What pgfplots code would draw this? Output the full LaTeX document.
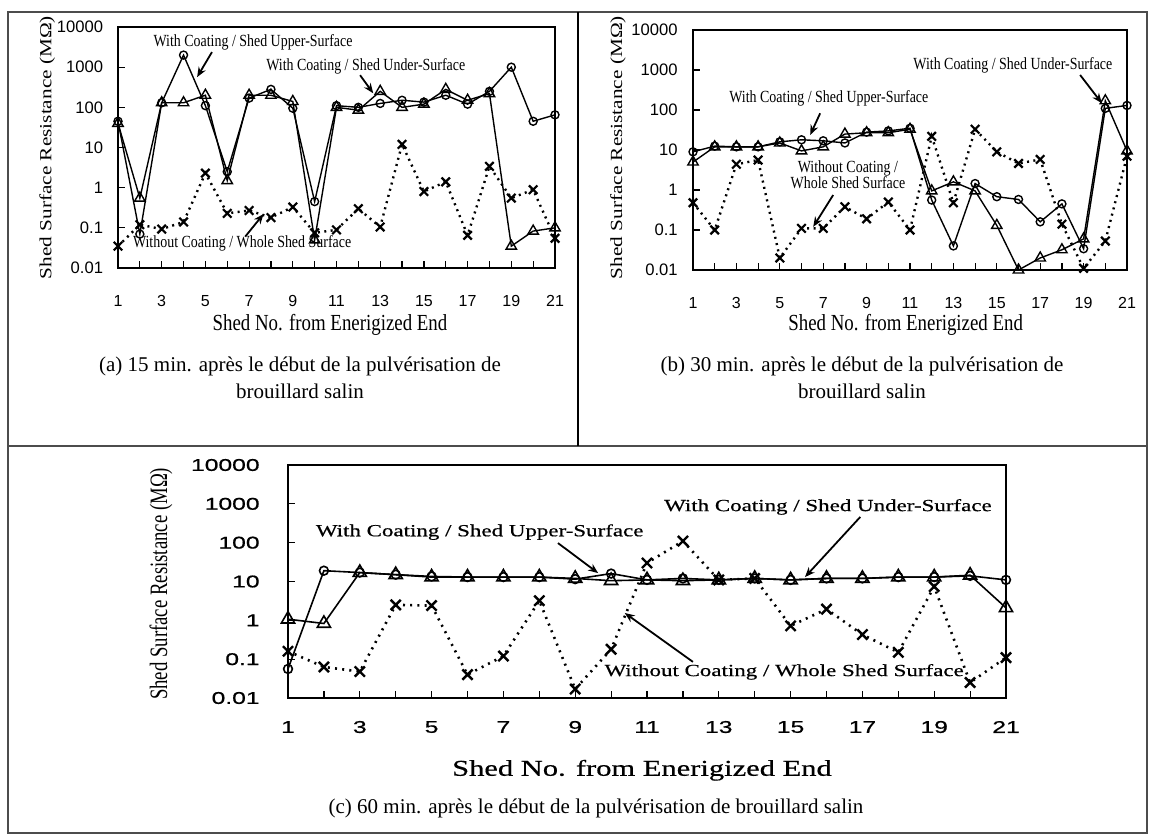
\documentclass[border=0pt]{standalone}
\usepackage{fontspec}
\setmainfont{Liberation Serif}
\setsansfont{Liberation Sans}
\newfontfamily\cserif[FakeStretch=0.82]{Liberation Serif}
\newfontfamily\lserif[FakeStretch=1.25]{Liberation Serif}
\newfontfamily\vserif[FakeStretch=0.75]{Liberation Serif}
\newfontfamily\wserif[FakeStretch=1.35,FakeBold=0.6]{Liberation Serif}
\newfontfamily\wsans[FakeStretch=1.45,FakeBold=0.8]{Liberation Sans}
\usepackage{pgfplots}
\pgfplotsset{compat=1.18}
\usetikzlibrary{arrows.meta}

\pgfplotsset{every axis/.append style={
    scale only axis, ymode=log, ymin=0.01, ymax=10000, xmin=1, xmax=21,
    xtick={1,...,21}, xticklabels={1,,3,,5,,7,,9,,11,,13,,15,,17,,19,,21},
    ytick={0.01,0.1,1,10,100,1000,10000},
    yticklabels={0.01,0.1,1,10,100,1000,10000},
    yminorticks=false, xminorticks=false,
    tick align=inside, xtick pos=bottom, ytick pos=left,
    major tick length=3.5pt,
    axis line style={line width=0.9pt},
    every tick/.style={black, line width=0.6pt},
    clip=false}}
\tikzset{
  sUp/.style={black, line width=0.7pt, mark=o, mark size=2pt, mark options={solid, line width=0.7pt}},
  sUn/.style={black, line width=0.7pt, mark=triangle, mark size=3pt, mark options={solid, line width=0.7pt}},
  sWo/.style={black, line width=1.2pt, dash pattern=on 1pt off 2.2pt, mark=x, mark size=3pt, mark options={solid, line width=1.1pt}},
  cUp/.style={black, line width=0.8pt, mark=o, mark size=2.2pt, mark options={solid, line width=0.8pt}},
  cUn/.style={black, line width=0.8pt, mark=triangle, mark size=3.8pt, mark options={solid, line width=0.8pt}},
  cWo/.style={black, line width=1.3pt, dash pattern=on 1pt off 2.6pt, mark=x, mark size=3.6pt, mark options={solid, line width=1.2pt}},
  sArr/.style={-{Stealth[length=5pt,width=4pt]}, line width=0.9pt},
}

\begin{document}
\begin{tikzpicture}
\useasboundingbox (0,0) rectangle (575pt,418.5pt);
% frame
\draw[line width=1pt, black!70] (4pt,2pt) rectangle (573.5pt,412.5pt);
\draw[line width=1pt, black!70] (4pt,195.5pt) -- (573.5pt,195.5pt);
\draw[line width=0.6pt, black] (289pt,195.5pt) -- (289pt,412.5pt);

% ---------------- (a) ----------------
\begin{axis}[at={(59pt,284.5pt)}, anchor=south west, width=218.5pt, height=120.5pt,
  xlabel={Shed No. from Enerigized End}, ylabel={Shed Surface Resistance (MΩ)},
  xlabel style={at={(axis description cs:0.485,-0.235)}, anchor=center, font=\cserif\fontsize{11.5}{12}\selectfont},
  ylabel style={at={(axis description cs:-0.162,0.5)}, anchor=center, font=\lserif\fontsize{8.5}{9}\selectfont},
  xticklabel style={font=\sffamily\fontsize{8}{9}\selectfont, anchor=center, yshift=-16.5pt},
  yticklabel style={font=\sffamily\fontsize{8.3}{9}\selectfont, anchor=east, inner sep=0pt, xshift=-7.3pt},
]
\addplot[sUp] coordinates {(1,45) (2,0.07) (3,130) (4,2000) (5,110) (6,2.5) (7,170) (8,280) (9,95) (10,0.45) (11,110) (12,100) (13,125) (14,150) (15,135) (16,200) (17,120) (18,250) (19,1000) (20,45) (21,65)};
\addplot[sUn] coordinates {(1,40) (2,0.55) (3,130) (4,130) (5,200) (6,1.5) (7,200) (8,200) (9,140) (10,0.05) (11,100) (12,85) (13,250) (14,100) (15,120) (16,280) (17,150) (18,220) (19,0.035) (20,0.083) (21,0.1)};
\addplot[sWo] coordinates {(1,0.035) (2,0.12) (3,0.093) (4,0.14) (5,2.3) (6,0.23) (7,0.27) (8,0.18) (9,0.33) (10,0.075) (11,0.089) (12,0.3) (13,0.105) (14,12) (15,0.8) (16,1.4) (17,0.065) (18,3.4) (19,0.55) (20,0.89) (21,0.055)};
\node[font=\cserif\fontsize{8.5}{9}\selectfont] at (rel axis cs:0.309,0.938) {With Coating / Shed Upper-Surface};
\draw[sArr] (rel axis cs:0.215,0.896) -- (rel axis cs:0.181,0.792);
\node[font=\cserif\fontsize{8.5}{9}\selectfont] at (rel axis cs:0.567,0.836) {With Coating / Shed Under-Surface};
\draw[sArr] (rel axis cs:0.554,0.80) -- (rel axis cs:0.584,0.725);
\node[font=\cserif\fontsize{8.5}{9}\selectfont] at (rel axis cs:0.284,0.102) {Without Coating / Whole Shed Surface};
\draw[sArr] (rel axis cs:0.291,0.13) -- (rel axis cs:0.333,0.224);
\end{axis}

% ---------------- (b) ----------------
\begin{axis}[at={(346.5pt,283.5pt)}, anchor=south west, width=217pt, height=120pt,
  xlabel={Shed No. from Enerigized End}, ylabel={Shed Surface Resistance (MΩ)},
  xlabel style={at={(axis description cs:0.49,-0.23)}, anchor=center, font=\cserif\fontsize{11.5}{12}\selectfont},
  ylabel style={at={(axis description cs:-0.173,0.51)}, anchor=center, font=\lserif\fontsize{8.5}{9}\selectfont},
  xticklabel style={font=\sffamily\fontsize{8}{9}\selectfont, anchor=center, yshift=-16.5pt},
  yticklabel style={font=\sffamily\fontsize{8.3}{9}\selectfont, anchor=east, inner sep=0pt, xshift=-7.5pt},
]
\addplot[sUp] coordinates {(1,9) (2,12.5) (3,12) (4,12) (5,16) (6,18) (7,17) (8,15) (9,28) (10,30) (11,35) (12,0.56) (13,0.04) (14,1.45) (15,0.68) (16,0.58) (17,0.16) (18,0.45) (19,0.034) (20,110) (21,130)};
\addplot[sUn] coordinates {(1,5) (2,12) (3,12) (4,12) (5,15) (6,9.5) (7,12) (8,25) (9,27) (10,27) (11,33) (12,0.95) (13,1.6) (14,0.95) (15,0.13) (16,0.01) (17,0.02) (18,0.032) (19,0.06) (20,170) (21,9.5)};
\addplot[sWo] coordinates {(1,0.48) (2,0.1) (3,4.4) (4,5.6) (5,0.02) (6,0.11) (7,0.11) (8,0.38) (9,0.19) (10,0.5) (11,0.1) (12,22) (13,0.48) (14,33) (15,9) (16,4.6) (17,5.8) (18,0.14) (19,0.011) (20,0.053) (21,7)};
\node[font=\cserif\fontsize{8.5}{9}\selectfont] at (rel axis cs:0.313,0.717) {With Coating / Shed Upper-Surface};
\draw[sArr] (rel axis cs:0.293,0.653) -- (rel axis cs:0.270,0.5625);
\node[font=\cserif\fontsize{8.5}{9}\selectfont] at (rel axis cs:0.737,0.854) {With Coating / Shed Under-Surface};
\draw[sArr] (rel axis cs:0.892,0.8125) -- (rel axis cs:0.942,0.695);
\node[font=\cserif\fontsize{8.5}{9}\selectfont, align=center] at (rel axis cs:0.357,0.396) {Without Coating /\\[-1pt]Whole Shed Surface};
\draw[sArr] (rel axis cs:0.323,0.3125) -- (rel axis cs:0.277,0.18);
\end{axis}

% captions (a), (b)
\node[font=\fontsize{10.5}{13.5}\selectfont, align=center] at (150pt,229.5pt) {(a) 15 min. après le début de la pulvérisation de\\brouillard salin};
\node[font=\fontsize{10.5}{13.5}\selectfont, align=center] at (431pt,229.5pt) {(b) 30 min. après le début de la pulvérisation de\\brouillard salin};

% ---------------- (c) ----------------
\begin{axis}[at={(144pt,69.5pt)}, anchor=south west, width=359pt, height=116.5pt,
  axis line style={line width=1.1pt},
  xlabel={Shed No. from Enerigized End}, ylabel={Shed Surface Resistance (MΩ)},
  xlabel style={at={(axis description cs:0.493,-0.31)}, anchor=center, font=\wserif\fontsize{11.3}{12}\selectfont},
  ylabel style={at={(axis description cs:-0.177,0.49)}, anchor=center, font=\vserif\fontsize{12.5}{13}\selectfont},
  xticklabel style={font=\wsans\fontsize{8.5}{9}\selectfont, anchor=center, yshift=-14.5pt},
  yticklabel style={font=\wsans\fontsize{8.5}{9}\selectfont, anchor=east, inner sep=0pt, xshift=-14pt},
]
\addplot[cUp] coordinates {(1,0.056) (2,19) (3,17) (4,15) (5,13.5) (6,13) (7,13) (8,13) (9,11.5) (10,16) (11,11) (12,12) (13,11) (14,12) (15,11) (16,12) (17,12) (18,13) (19,13) (20,14) (21,11)};
\addplot[cUn] coordinates {(1,1.07) (2,0.83) (3,17) (4,15) (5,13) (6,13) (7,13) (8,13) (9,12) (10,10.5) (11,11) (12,10.5) (13,11) (14,12) (15,11) (16,12) (17,12) (18,13) (19,13) (20,14.5) (21,2.1)};
\addplot[cWo] coordinates {(1,0.16) (2,0.063) (3,0.048) (4,2.5) (5,2.4) (6,0.04) (7,0.12) (8,3.2) (9,0.017) (10,0.18) (11,30) (12,110) (13,11) (14,12) (15,0.72) (16,1.95) (17,0.43) (18,0.15) (19,7.4) (20,0.025) (21,0.11)};
\node[font=\wserif\fontsize{8.5}{9}\selectfont] at (rel axis cs:0.267,0.712) {With Coating / Shed Upper-Surface};
\draw[sArr] (rel axis cs:0.376,0.665) -- (rel axis cs:0.432,0.536);
\node[font=\wserif\fontsize{8.5}{9}\selectfont] at (rel axis cs:0.752,0.820) {With Coating / Shed Under-Surface};
\draw[sArr] (rel axis cs:0.797,0.777) -- (rel axis cs:0.720,0.519);
\node[font=\wserif\fontsize{8.5}{9}\selectfont] at (rel axis cs:0.691,0.112) {Without Coating / Whole Shed Surface};
\draw[sArr] (rel axis cs:0.564,0.155) -- (rel axis cs:0.469,0.365);
\end{axis}

\node[font=\fontsize{10.5}{12}\selectfont] at (298pt,14.5pt) {(c) 60 min. après le début de la pulvérisation de brouillard salin};
\end{tikzpicture}
\end{document}
